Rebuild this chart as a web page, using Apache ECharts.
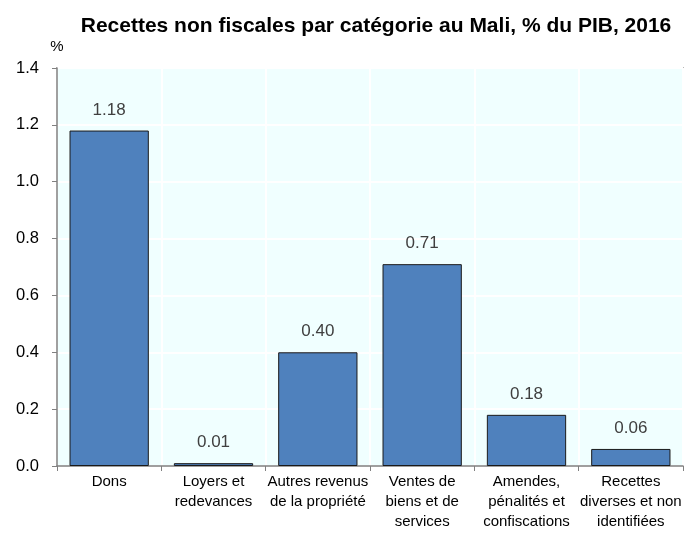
<!DOCTYPE html>
<html>
<head>
<meta charset="utf-8">
<script src="https://cdn.jsdelivr.net/npm/echarts@6/dist/echarts.min.js"></script>
<style>
  html, body { margin: 0; padding: 0; background: #fff; }
  #chart { width: 685px; height: 533px; }
</style>
</head>
<body>
<div id="chart"></div>
<script>
  // données
  var categories = [
    'Dons',
    'Loyers et\nredevances',
    'Autres revenus\nde la propriété',
    'Ventes de\nbiens et de\nservices',
    'Amendes,\npénalités et\nconfiscations',
    'Recettes\ndiverses et non\nidentifiées'
  ]
  var values = [1.18, 0.01, 0.40, 0.71, 0.18, 0.06]
  var yTicks = [0, 0.2, 0.4, 0.6, 0.8, 1.0, 1.2, 1.4]

  var chart = echarts.init(document.getElementById('chart'))
  var font = '"Liberation Sans", Arial, sans-serif'

  chart.setOption({
    animation: false,
    textStyle: { fontFamily: font },
    title: {
      text: 'Recettes non fiscales par catégorie au Mali, % du PIB, 2016',
      left: 371,
      textAlign: 'center',
      top: 11,
      textStyle: { fontSize: 21, fontWeight: 'bold', color: '#000', fontFamily: font }
    },
    grid: {
      left: 57,
      right: 2,
      top: 68,
      bottom: 67,
      show: true,
      backgroundColor: '#F0FFFF',
      borderColor: '#808080',
      borderWidth: 1.5
    },
    xAxis: {
      type: 'category',
      data: categories,
      axisLine: { lineStyle: { color: '#808080', width: 1.5 } },
      axisTick: { show: true, length: 5, lineStyle: { color: '#808080' } },
      splitLine: { show: true, lineStyle: { color: '#fff', width: 2 } },
      axisLabel: {
        interval: 0,
        color: '#000',
        fontSize: 15,
        lineHeight: 20,
        margin: 6,
        fontFamily: font
      }
    },
    yAxis: {
      type: 'value',
      min: yTicks[0],
      max: yTicks[yTicks.length - 1],
      interval: 0.2,
      name: '%',
      nameLocation: 'end',
      nameGap: 14,
      nameTextStyle: { color: '#000', fontSize: 15, align: 'center' },
      axisLine: { show: true, lineStyle: { color: '#808080', width: 1.5 } },
      axisTick: { show: true, length: 5, lineStyle: { color: '#808080' } },
      splitLine: { show: true, lineStyle: { color: '#fff', width: 2 } },
      axisLabel: {
        color: '#000',
        fontSize: 16.5,
        margin: 18,
        formatter: function (v) { return v.toFixed(1) }
      }
    },
    series: [{
      type: 'bar',
      data: values,
      barWidth: '76%',
      itemStyle: { color: '#4F81BD', borderColor: '#1a1a1a', borderWidth: 1 },
      label: {
        show: true,
        position: 'top',
        distance: 12,
        color: '#404040',
        fontSize: 17,
        formatter: function (p) { return p.value.toFixed(2) }
      }
    }]
  })
</script>
</body>
</html>
